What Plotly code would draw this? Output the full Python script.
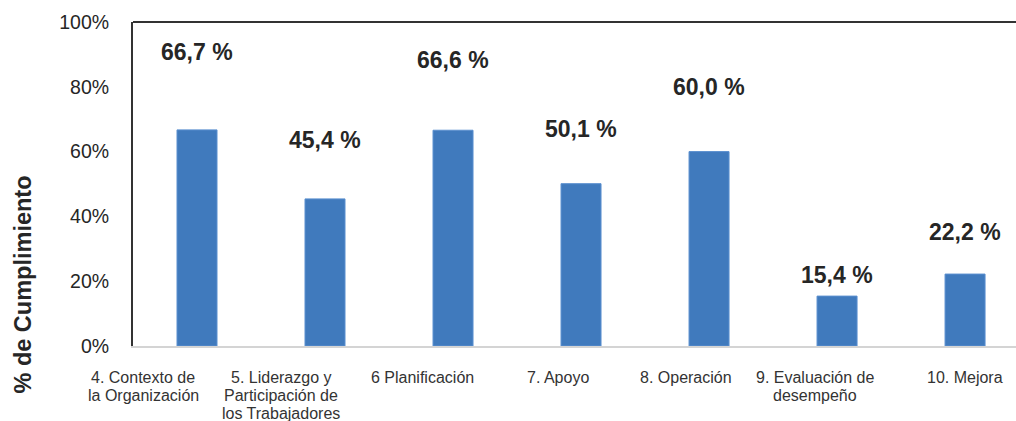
import plotly.graph_objects as go

categories = ["4. Contexto de<br>la Organización",
              "5. Liderazgo y<br>Participación de<br>los Trabajadores",
              "6 Planificación",
              "7. Apoyo",
              "8. Operación",
              "9. Evaluación de<br>desempeño",
              "10. Mejora"]
values = [66.7, 45.4, 66.6, 50.1, 60.0, 15.4, 22.2]
y_ticks = [0, 20, 40, 60, 80, 100]
y_tick_labels = ["0%", "20%", "40%", "60%", "80%", "100%"]

# style: pixel offsets of value labels above bar tops, and category label shifts
label_lift = [78, 59, 70, 55, 65, 21, 42]
cat_xshift = [-54, -44, -31, -23, -23, -22, 0]

FONT = "Liberation Sans, Arial, sans-serif"
TXT = "#262626"
BAR = "#407abd"

fig = go.Figure()
fig.add_trace(go.Bar(x=categories, y=values, width=0.3125,
                     marker=dict(color=BAR, line=dict(color="#5a8fcf", width=1)),
                     hoverinfo="skip"))

annotations = []
for c, v, lift in zip(categories, values, label_lift):
    annotations.append(dict(x=c, y=v, xref="x", yref="y", yanchor="middle",
                            text=f"{v:.1f}".replace(".", ",") + " %",
                            showarrow=False, yshift=lift,
                            font=dict(family=FONT, size=23, color=TXT, weight="bold")))
for c, xs in zip(categories, cat_xshift):
    for i, line in enumerate(c.split("<br>")):
        annotations.append(dict(x=c, y=0, xref="x", yref="y", yanchor="middle",
                                text=line, showarrow=False, xshift=xs,
                                yshift=-31 - 18 * i,
                                font=dict(family=FONT, size=16, color="#333333")))
annotations.append(dict(x=-0.1245, y=0.19, xref="paper", yref="paper",
                        text="% de Cumplimiento", textangle=-90, showarrow=False,
                        xanchor="center", yanchor="middle",
                        font=dict(family=FONT, size=23.5, color=TXT, weight="bold")))

fig.update_layout(
    width=1016, height=421,
    margin=dict(l=133, r=0, t=22, b=75, autoexpand=False),
    paper_bgcolor="white", plot_bgcolor="white",
    showlegend=False, bargap=0.6875,
    annotations=annotations,
    shapes=[dict(type="line", xref="paper", yref="paper", x0=0, x1=1, y0=1, y1=1,
                 line=dict(color="#333333", width=2))],
    xaxis=dict(range=[-0.5, 6.398], showticklabels=False, showgrid=False,
               showline=True, linecolor="#d4d4d4", linewidth=2, zeroline=False,
               fixedrange=True),
    yaxis=dict(range=[0, 100], tickmode="array", tickvals=y_ticks,
               ticktext=y_tick_labels, showgrid=False,
               showline=True, linecolor="#333333", linewidth=2, zeroline=False,
               ticks="", ticklabelstandoff=18,
               tickfont=dict(family=FONT, size=19.5, color=TXT)),
)

fig.write_html("out.html", config={"displayModeBar": False},
               post_script="document.body.style.margin='0';")
